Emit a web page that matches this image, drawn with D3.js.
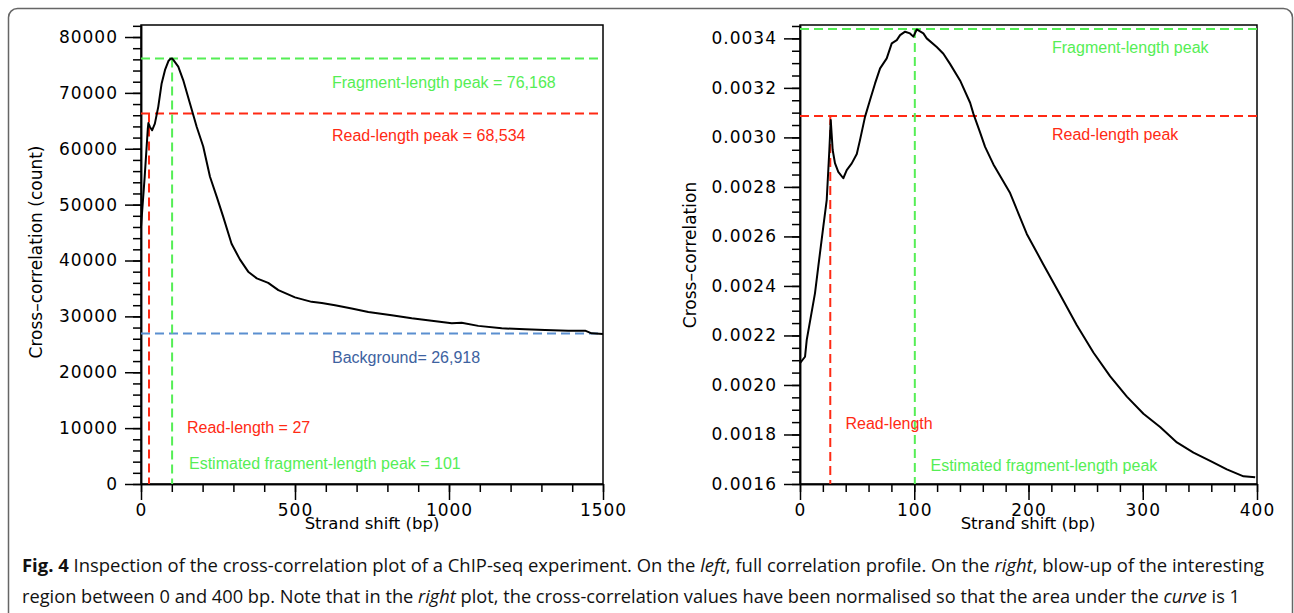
<!DOCTYPE html>
<html>
<head>
<meta charset="utf-8">
<script src="https://cdn.jsdelivr.net/npm/d3@7"></script>
<style>
body { margin: 0; background: #fff; }
</style>
</head>
<body>
<div class="container"></div>
<script>
// left panel, full profile (bp shift vs raw count)
var leftShift = [0, 12, 22, 24, 29, 36, 45, 56, 67, 78, 89, 96, 101, 105, 121, 137, 159, 181, 202, 224, 246, 267, 294, 321, 348, 376, 413, 446, 500, 554, 587, 630, 684, 738, 814, 879, 944, 1009, 1041, 1095, 1171, 1247, 1312, 1387, 1442, 1463, 1500];
var leftCorr = [46000, 55000, 63500, 64600, 63900, 63300, 64500, 67500, 71700, 74100, 75700, 76100, 76168, 75900, 74700, 72300, 68100, 63900, 60400, 55000, 51400, 47800, 43000, 40200, 38000, 36800, 36000, 34700, 33400, 32600, 32400, 32000, 31400, 30800, 30200, 29650, 29200, 28760, 28870, 28300, 27860, 27680, 27560, 27440, 27440, 26970, 26840];

// right panel, 0-400 bp, normalised
var rightShift = [0, 4.4, 5.9, 13.1, 16, 20.4, 23.4, 25.7, 26.9, 28.6, 30.6, 33.5, 37.9, 40.9, 45.3, 49.7, 52.5, 56.9, 61.3, 65.7, 70.1, 75.9, 80.3, 84.7, 87.6, 92, 96.3, 99.2, 102.2, 108, 110.9, 119.7, 125.5, 131.3, 140.1, 148.9, 151.8, 157.6, 162, 169.3, 183.9, 198.5, 213, 227.7, 242.3, 256.8, 271.5, 286.1, 300.6, 315.2, 329.9, 344.4, 359, 373.6, 388.2, 398.4];
var rightCorr = [0.002088, 0.002114, 0.002182, 0.00237, 0.002478, 0.00264, 0.002748, 0.00295, 0.00307, 0.002949, 0.002896, 0.002861, 0.002835, 0.002868, 0.002895, 0.002933, 0.002989, 0.003083, 0.003151, 0.003218, 0.003279, 0.003319, 0.00338, 0.003393, 0.003413, 0.003427, 0.00342, 0.003407, 0.003436, 0.00342, 0.0034, 0.003365, 0.003338, 0.003297, 0.00323, 0.00314, 0.003095, 0.00302, 0.002962, 0.002891, 0.002775, 0.00261, 0.002487, 0.002364, 0.002241, 0.002131, 0.002035, 0.001953, 0.001884, 0.00183, 0.001768, 0.001727, 0.001693, 0.001659, 0.001631, 0.001627];

// tick labels
var leftXTicks = [0, 500, 1000, 1500];
var leftYTicks = [0, 10000, 20000, 30000, 40000, 50000, 60000, 70000, 80000];
var rightXTicks = [0, 100, 200, 300, 400];
var rightYTicks = [0.0016, 0.0018, 0.0020, 0.0022, 0.0024, 0.0026, 0.0028, 0.0030, 0.0032, 0.0034];

// reference lines: [fragment peak, read peak, read length, fragment length, background]
var leftMarks = [76168, 66300, 26, 101, 26918];
var rightMarks = [0.003438, 0.003086, 26.5, 100.5];

var GREEN = "#55ee55", RED = "#ff2a14", BLUE = "#5b8fd0";
var TICKFONT = "'DejaVu Sans', sans-serif";
var NOTEFONT = "'Liberation Sans', Arial, sans-serif";

var svg = d3.select(".container")
	.append("svg")
	.attr("width", 1294)
	.attr("height", 613);

// outer frame of the figure box (bottom runs off the page)
svg.append("rect")
	.attr("x", 8.5).attr("y", 8.5)
	.attr("width", 1284).attr("height", 700)
	.attr("rx", 9)
	.style("fill", "none")
	.style("stroke", "#666")
	.style("stroke-width", 1.5);

function makePanel(left, right, xdom, ydom) {
	var p = {};
	p.x = d3.scaleLinear().domain(xdom).range([left, right]);
	p.y = d3.scaleLinear().domain(ydom).range([484, 25]);
	p.g = svg.append("g");
	return p;
}

function drawAxes(p, xticks, xminor, yticks, yminor, yfmt) {
	var g = p.g;
	// minor ticks first, no labels
	g.append("g").attr("transform", "translate(0,484)")
		.call(d3.axisBottom(p.x).tickValues(xminor).tickSize(8).tickSizeOuter(0).tickFormat(""));
	g.append("g").attr("transform", "translate(" + p.x.range()[0] + ",0)")
		.call(d3.axisLeft(p.y).tickValues(yminor).tickSize(8).tickSizeOuter(0).tickFormat(""));

	g.append("g").attr("class", "ax").attr("transform", "translate(0,484)")
		.call(d3.axisBottom(p.x).tickValues(xticks).tickSize(16).tickSizeOuter(0).tickPadding(4).tickFormat(d3.format("d")));
	g.append("g").attr("class", "ax").attr("transform", "translate(" + p.x.range()[0] + ",0)")
		.call(d3.axisLeft(p.y).tickValues(yticks).tickSize(16).tickSizeOuter(0).tickPadding(7).tickFormat(yfmt));

	g.selectAll(".tick line").style("stroke", "#000").style("stroke-width", 1.5);
	g.selectAll(".domain").style("stroke", "#000").style("stroke-width", 1.5);
	g.selectAll(".ax text")
		.style("font-family", TICKFONT)
		.style("font-size", "17px")
		.style("letter-spacing", "1px")
		.style("fill", "#000");

	// box round the plot
	g.append("rect")
		.attr("x", p.x.range()[0]).attr("y", 25)
		.attr("width", p.x.range()[1] - p.x.range()[0]).attr("height", 459)
		.style("fill", "none").style("stroke", "#000").style("stroke-width", 1.5);
}

function dashed(p, x1, y1, x2, y2, col) {
	p.g.append("line")
		.attr("x1", p.x(x1)).attr("y1", p.y(y1))
		.attr("x2", p.x(x2)).attr("y2", p.y(y2))
		.style("stroke", col)
		.style("stroke-width", 2)
		.style("stroke-dasharray", "9,5");
}

function curve(p, xs, ys) {
	var pts = xs.map(function(d, i) { return [d, ys[i]]; });
	p.g.append("path")
		.datum(pts)
		.attr("d", d3.line().x(function(d) { return p.x(d[0]); }).y(function(d) { return p.y(d[1]); }))
		.style("fill", "none")
		.style("stroke", "#000")
		.style("stroke-width", 2)
		.style("stroke-linejoin", "round");
}

function note(p, x, y, txt, col) {
	p.g.append("text")
		.attr("x", x).attr("y", y)
		.text(txt)
		.style("font-family", NOTEFONT)
		.style("font-size", "16px")
		.style("fill", col);
}

function axisTitles(p, cx, ylabx, ylaby, ylab) {
	p.g.append("text")
		.attr("x", cx).attr("y", 529)
		.attr("text-anchor", "middle")
		.text("Strand shift (bp)")
		.style("font-family", TICKFONT).style("font-size", "16.5px");
	p.g.append("text")
		.attr("transform", "translate(" + ylabx + "," + ylaby + ") rotate(-90)")
		.attr("text-anchor", "middle")
		.attr("dy", "0.35em")
		.text(ylab)
		.style("font-family", TICKFONT).style("font-size", "17px");
}

// ---- left panel
var L = makePanel(141, 603, [0, 1500], [0, 82150]);
drawAxes(L, leftXTicks, d3.range(0, 1501, 100), leftYTicks, d3.range(0, 82001, 2000), d3.format("d"));
dashed(L, 0, leftMarks[0], 1500, leftMarks[0], GREEN);
dashed(L, 0, leftMarks[1], 1500, leftMarks[1], RED);
dashed(L, 0, leftMarks[4], 1500, leftMarks[4], BLUE);
dashed(L, leftMarks[2], leftMarks[1], leftMarks[2], 0, RED);
dashed(L, leftMarks[3], leftMarks[0], leftMarks[3], 0, GREEN);
curve(L, leftShift, leftCorr);
note(L, 332, 88, "Fragment-length peak = 76,168", GREEN);
note(L, 332, 140.5, "Read-length peak = 68,534", RED);
note(L, 332, 362.5, "Background= 26,918", "#3d62a0");
note(L, 187, 432.5, "Read-length = 27", RED);
note(L, 189, 469, "Estimated fragment-length peak = 101", GREEN);
axisTitles(L, 372, 36, 252, "Cross–correlation (count)");

// ---- right panel
var R = makePanel(800, 1257, [0, 400], [0.0016, 0.003454]);
drawAxes(R, rightXTicks, d3.range(0, 401, 20), rightYTicks,
	d3.range(32, 70).map(function(i) { return i * 0.00005; }), d3.format(".4f"));
dashed(R, 0, rightMarks[0], 400, rightMarks[0], GREEN);
dashed(R, 0, rightMarks[1], 400, rightMarks[1], RED);
dashed(R, rightMarks[2], rightMarks[1], rightMarks[2], 0.0016, RED);
dashed(R, rightMarks[3], rightMarks[0], rightMarks[3], 0.0016, GREEN);
curve(R, rightShift, rightCorr);
note(R, 1052, 53, "Fragment-length peak", GREEN);
note(R, 1052, 139.5, "Read-length peak", RED);
note(R, 845.5, 429, "Read-length", RED);
note(R, 930.5, 470.5, "Estimated fragment-length peak", GREEN);
axisTitles(R, 1028, 690, 255, "Cross–correlation");

// ---- caption
var cap1 = svg.append("text").attr("x", 22).attr("y", 572)
	.attr("textLength", 1242).attr("lengthAdjust", "spacingAndGlyphs")
	.style("font-family", "'Open Sans', 'Noto Sans', sans-serif").style("font-size", "18px").style("fill", "#111");
cap1.append("tspan").style("font-weight", "bold").text("Fig. 4");
cap1.append("tspan").text(" Inspection of the cross-correlation plot of a ChIP-seq experiment. On the ");
cap1.append("tspan").style("font-style", "italic").text("left");
cap1.append("tspan").text(", full correlation profile. On the ");
cap1.append("tspan").style("font-style", "italic").text("right");
cap1.append("tspan").text(", blow-up of the interesting");

var cap2 = svg.append("text").attr("x", 22).attr("y", 603)
	.attr("textLength", 1218).attr("lengthAdjust", "spacingAndGlyphs")
	.style("font-family", "'Open Sans', 'Noto Sans', sans-serif").style("font-size", "18px").style("fill", "#111");
cap2.append("tspan").text("region between 0 and 400 bp. Note that in the ");
cap2.append("tspan").style("font-style", "italic").text("right");
cap2.append("tspan").text(" plot, the cross-correlation values have been normalised so that the area under the ");
cap2.append("tspan").style("font-style", "italic").text("curve");
cap2.append("tspan").text(" is 1");
</script>
</body>
</html>
